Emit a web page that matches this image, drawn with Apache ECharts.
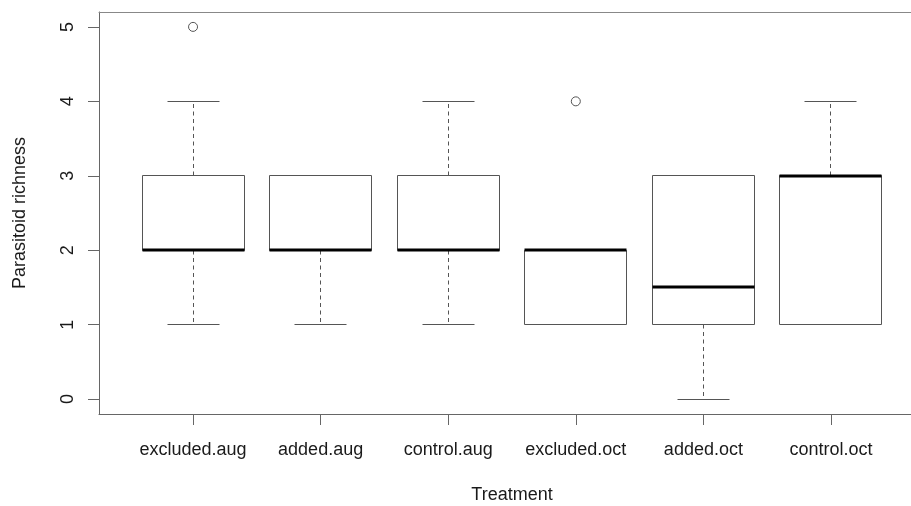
<!DOCTYPE html>
<html>
<head>
<meta charset="utf-8">
<script src="https://cdn.jsdelivr.net/npm/echarts@6/dist/echarts.min.js"></script>
<style>html,body{margin:0;padding:0;background:#fff}#c{width:911px;height:506px}</style>
</head>
<body>
<div id="c"></div>
<script>
const categories = ['excluded.aug', 'added.aug', 'control.aug', 'excluded.oct', 'added.oct', 'control.oct'];
const mins    = [1, 1, 1, 1, 0,   1];
const q1s     = [2, 2, 2, 1, 1,   1];
const medians = [2, 2, 2, 2, 1.5, 3];
const q3s     = [3, 3, 3, 2, 3,   3];
const maxs    = [4, 3, 4, 2, 3,   4];
const outlierGroup = [1, 4];
const outlierValue = [5, 4];
const yTicks = [0, 1, 2, 3, 4, 5];
const xTicks = [1, 2, 3, 4, 5, 6];

const boxData = categories.map((c, i) => [i + 1, mins[i], q1s[i], medians[i], q3s[i], maxs[i]]);
const outData = outlierGroup.map((g, i) => [g, outlierValue[i]]);

const lineCol = '#555';
const textCol = '#1a1a1a';
const font = "'Liberation Sans', Arial, Helvetica, sans-serif";
const snap = v => Math.round(v - 0.5) + 0.5;

const chart = echarts.init(document.getElementById('c'));
chart.setOption({
  animation: false,
  backgroundColor: '#fff',
  grid: { left: 99, top: 12, right: 0, bottom: 92, outerBoundsMode: 'none', containLabel: false },
  xAxis: [{
    type: 'value', min: 0.263, max: 6.627,
    splitLine: { show: false },
    axisLine: { show: true, onZero: false, lineStyle: { color: '#666', width: 1 } },
    axisTick: { show: true, length: 11, customValues: xTicks, lineStyle: { color: '#666' } },
    axisLabel: {
      customValues: xTicks, margin: 27,
      formatter: v => categories[Math.round(v) - 1] || '',
      color: textCol, fontSize: 18, fontFamily: font
    },
    name: 'Treatment', nameLocation: 'middle', nameGap: 72,
    nameTextStyle: { color: textCol, fontSize: 18, fontFamily: font, padding: [0, 0, 0, 14] }
  }, {
    type: 'value', min: 0.263, max: 6.627, position: 'top',
    splitLine: { show: false },
    axisLine: { show: true, onZero: false, lineStyle: { color: '#888', width: 1 } },
    axisTick: { show: false }, axisLabel: { show: false }
  }],
  yAxis: {
    type: 'value', min: -0.2, max: 5.2,
    splitLine: { show: false },
    axisLine: { show: true, onZero: false, lineStyle: { color: '#666', width: 1 } },
    axisTick: { show: true, length: 11, customValues: yTicks, lineStyle: { color: '#666' } },
    axisLabel: {
      customValues: yTicks, rotate: 90, margin: 22,
      color: textCol, fontSize: 18, fontFamily: font
    },
    name: 'Parasitoid richness', nameLocation: 'middle', nameGap: 70, nameRotate: 90,
    nameTextStyle: { color: textCol, fontSize: 18, fontFamily: font }
  },
  series: [{
    type: 'custom',
    xAxisIndex: 0, yAxisIndex: 0,
    data: boxData,
    encode: { x: 0, y: [1, 2, 3, 4, 5] },
    renderItem: function (params, api) {
      const x = api.value(0);
      const lo = api.coord([x, api.value(1)]);
      const q1 = api.coord([x, api.value(2)]);
      const md = api.coord([x, api.value(3)]);
      const q3 = api.coord([x, api.value(4)]);
      const hi = api.coord([x, api.value(5)]);
      const unit = api.size([1, 0])[0];
      const bw = unit * 0.8 / 2;
      const cw = unit * 0.4 / 2;
      const cx = snap(lo[0]);
      const dashed = { stroke: lineCol, lineWidth: 1, lineDash: [4, 3.5] };
      const solid = { stroke: lineCol, lineWidth: 1 };
      return {
        type: 'group',
        children: [
          { type: 'line', shape: { x1: cx, y1: snap(q3[1]), x2: cx, y2: snap(hi[1]) }, style: dashed },
          { type: 'line', shape: { x1: cx, y1: snap(q1[1]), x2: cx, y2: snap(lo[1]) }, style: dashed },
          { type: 'line', shape: { x1: snap(cx - cw), y1: snap(hi[1]), x2: snap(cx + cw), y2: snap(hi[1]) }, style: solid },
          { type: 'line', shape: { x1: snap(cx - cw), y1: snap(lo[1]), x2: snap(cx + cw), y2: snap(lo[1]) }, style: solid },
          { type: 'rect', shape: { x: snap(cx - bw), y: snap(q3[1]), width: Math.round(2 * bw), height: snap(q1[1]) - snap(q3[1]) },
            style: { fill: 'none', stroke: lineCol, lineWidth: 1 } },
          { type: 'line', shape: { x1: snap(cx - bw), y1: Math.round(md[1]), x2: snap(cx + bw), y2: Math.round(md[1]) },
            style: { stroke: '#000', lineWidth: 3 } }
        ]
      };
    }
  }, {
    type: 'scatter',
    xAxisIndex: 0, yAxisIndex: 0,
    data: outData,
    symbol: 'circle',
    symbolSize: 9,
    z: 5,
    itemStyle: { color: 'rgba(255,255,255,0)', borderColor: lineCol, borderWidth: 1, opacity: 1 }
  }]
});
</script>
</body>
</html>
